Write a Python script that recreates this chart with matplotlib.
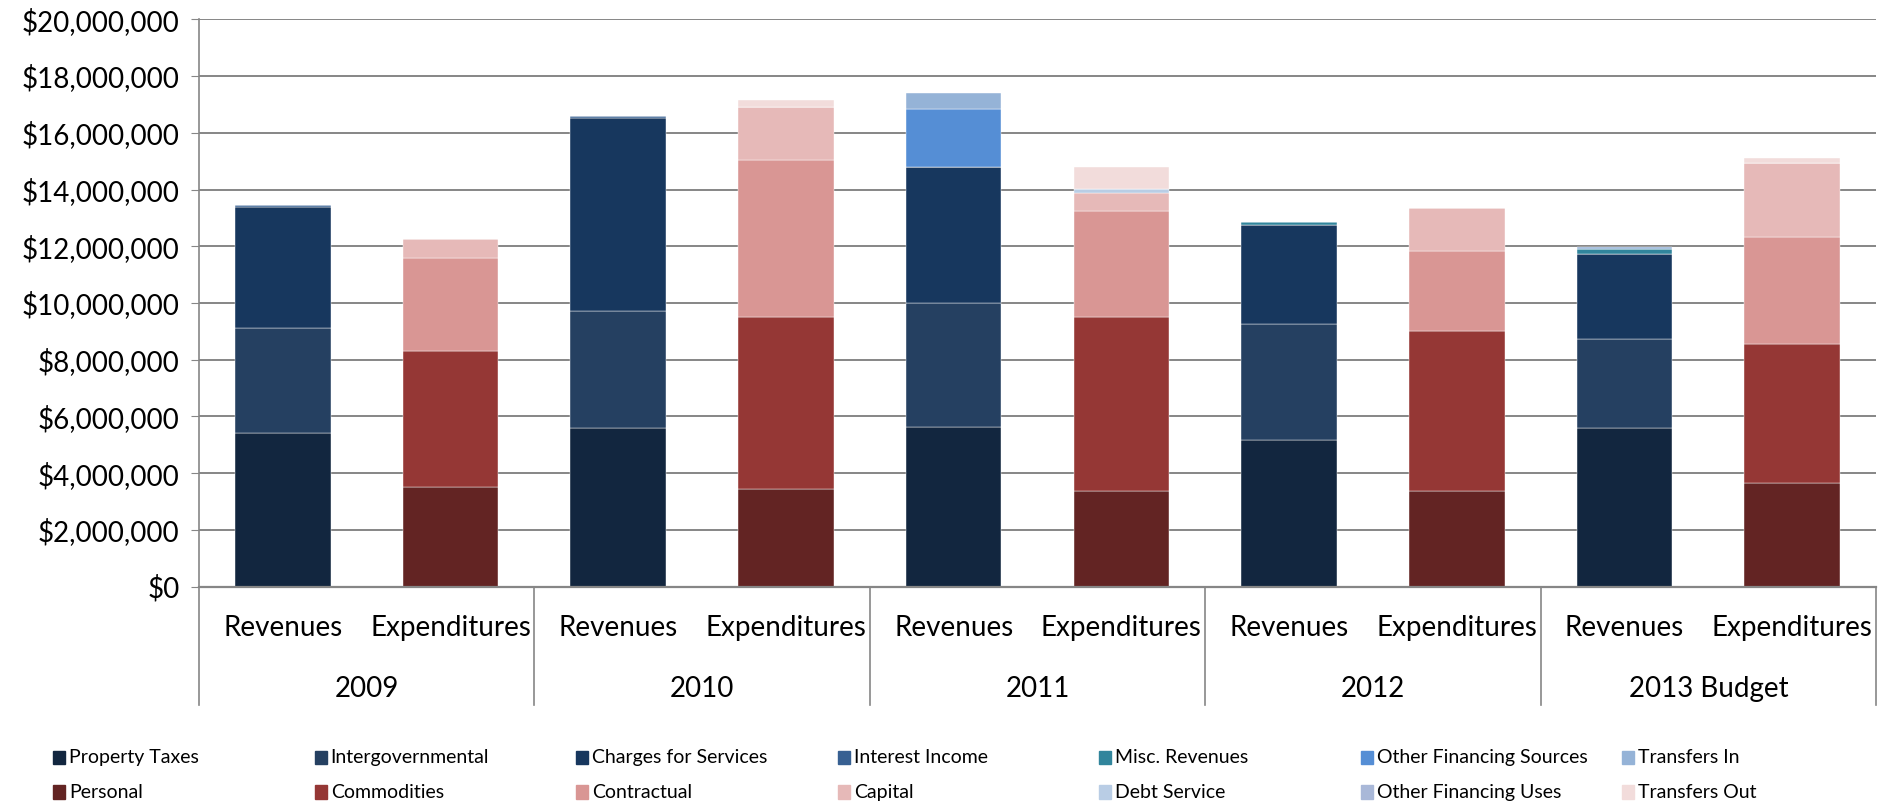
import matplotlib.pyplot as plt
from matplotlib.patches import Rectangle
from matplotlib.ticker import FuncFormatter, MultipleLocator
import numpy as np

plt.rcParams['font.family'] = ['Lato', 'DejaVu Sans']

years = ["2009", "2010", "2011", "2012", "2013 Budget"]
kinds = ["Revenues", "Expenditures"]

# revenue components, dollars per year
property_taxes = [5430000, 5580000, 5640000, 5180000, 5610000]
intergovernmental = [3700000, 4150000, 4350000, 4090000, 3110000]
charges_for_services = [4260000, 6790000, 4800000, 3490000, 3010000]
interest_income = [80000, 70000, 0, 0, 0]
misc_revenues = [0, 0, 0, 80000, 170000]
other_financing_sources = [0, 0, 2060000, 0, 0]
transfers_in = [0, 0, 560000, 0, 90000]

# expenditure components, dollars per year
personal = [3520000, 3450000, 3360000, 3380000, 3640000]
commodities = [4780000, 6040000, 6130000, 5620000, 4920000]
contractual = [3280000, 5550000, 3750000, 2840000, 3750000]
capital = [660000, 1880000, 640000, 1500000, 2630000]
debt_service = [0, 0, 140000, 0, 0]
other_financing_uses = [0, 0, 0, 0, 0]
transfers_out = [0, 240000, 770000, 0, 180000]

revenue_series = [
    ("Property Taxes", property_taxes, "#12263f"),
    ("Intergovernmental", intergovernmental, "#254061"),
    ("Charges for Services", charges_for_services, "#17375e"),
    ("Interest Income", interest_income, "#376092"),
    ("Misc. Revenues", misc_revenues, "#31859c"),
    ("Other Financing Sources", other_financing_sources, "#558ed5"),
    ("Transfers In", transfers_in, "#95b3d7"),
]
expense_series = [
    ("Personal", personal, "#632423"),
    ("Commodities", commodities, "#953735"),
    ("Contractual", contractual, "#d99694"),
    ("Capital", capital, "#e6b9b8"),
    ("Debt Service", debt_service, "#b9cde5"),
    ("Other Financing Uses", other_financing_uses, "#a9b8d8"),
    ("Transfers Out", transfers_out, "#f2dcdb"),
]

fig = plt.figure(figsize=(18.95, 8.11), dpi=100)
ax = fig.add_axes([0.105, 0.2766, 0.885, 0.6996])

n = len(years)
rev_x = np.arange(n) * 2
exp_x = rev_x + 1
width = 0.57

bottom = np.zeros(n)
for name, vals, color in revenue_series:
    vals = np.array(vals, dtype=float)
    ax.bar(rev_x, vals, width, bottom=bottom, color=color,
           edgecolor="#ffffff", linewidth=0.3)
    bottom += vals

bottom = np.zeros(n)
for name, vals, color in expense_series:
    vals = np.array(vals, dtype=float)
    ax.bar(exp_x, vals, width, bottom=bottom, color=color,
           edgecolor="#ffffff", linewidth=0.3)
    bottom += vals

ax.set_xlim(-0.5, 2 * n - 0.5)
ax.set_ylim(0, 20000000)
ax.yaxis.set_major_locator(MultipleLocator(2000000))
ax.yaxis.set_major_formatter(FuncFormatter(lambda v, p: "${:,.0f}".format(v)))
ax.grid(axis="y", color="#868686", linewidth=1.4)
ax.set_axisbelow(True)

for side in ["top", "right", "bottom"]:
    ax.spines[side].set_visible(False)
ax.spines["left"].set_color("#868686")
ax.spines["left"].set_linewidth(1.2)

ax.tick_params(axis="y", labelsize=20, length=6, color="#868686", pad=8)
ax.tick_params(axis="x", length=0)
ax.set_xticks([])

# two-level category axis: kind labels, year labels, separators
trans = ax.get_xaxis_transform()
ax.axhline(0, color="#868686", linewidth=1.6, clip_on=False)
for i in range(n):
    ax.text(rev_x[i], -0.072, kinds[0], transform=trans, ha="center",
            va="center", fontsize=20)
    ax.text(exp_x[i], -0.072, kinds[1], transform=trans, ha="center",
            va="center", fontsize=20)
    ax.text(rev_x[i] + 0.5, -0.18, years[i], transform=trans, ha="center",
            va="center", fontsize=20)
for b in np.arange(n + 1) * 2 - 0.5:
    ax.plot([b, b], [0, -0.2085], transform=trans, color="#868686",
            linewidth=1.2, clip_on=False)

# legend laid out in an even grid: revenues on top row, expenditures below
for row, series in enumerate([revenue_series, expense_series]):
    y = 0.066 - row * 0.043
    for j, (name, vals, color) in enumerate(series):
        x = 0.028 + j * 0.138
        fig.add_artist(Rectangle((x, y - 0.0085), 0.0063, 0.017,
                                 transform=fig.transFigure, color=color))
        fig.text(x + 0.0085, y, name, fontsize=14, va="center", ha="left")

fig.savefig("out.png", dpi=100)
